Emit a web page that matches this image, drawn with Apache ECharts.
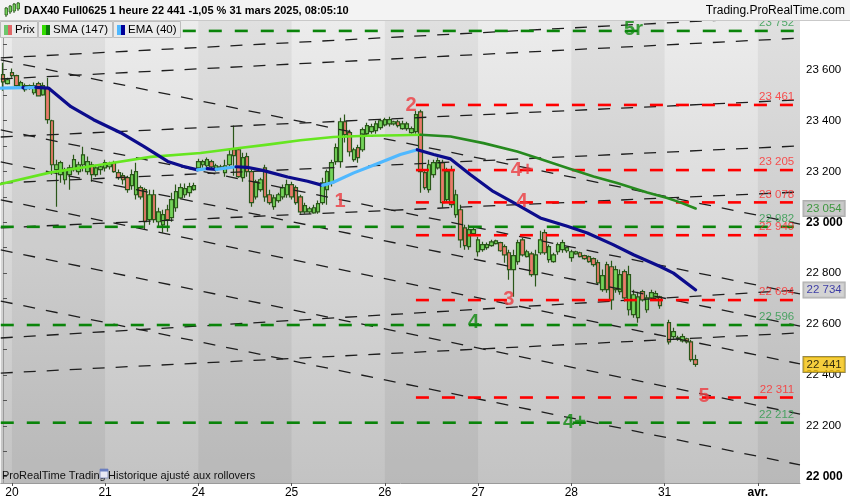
<!DOCTYPE html>
<html><head><meta charset="utf-8">
<script src="https://cdn.jsdelivr.net/npm/echarts@6/dist/echarts.min.js"></script>
<style>html,body{margin:0;padding:0;background:#fff}#c{width:850px;height:500px}</style>
</head><body><div id="c"></div>
<script>
// ================= DATA =================
const slotCount = 180;                    // hourly slots on the x axis
const daySlots  = [2, 23, 44, 65, 86, 107, 128, 149, 170];
const dayLabels = ['20', '21', '24', '25', '26', '27', '28', '31', 'avr.'];

const opens = [23580,23545,23588,23576,23533,23521,23529,23509,23545,23501,
23529,23399,23207,23187,23167,23187,23207,23199,23226,23199,
23226,23187,23207,23214,23218,23234,23195,23183,23175,23144,
23108,23136,23128,23010,23108,23002,22990,23049,23018,23057,
23096,23108,23116,23128,23214,23226,23222,23238,23207,23218,
23195,23226,23285,23285,23175,23258,23199,23100,23128,23214,
23108,23061,23085,23100,23108,23148,23136,23100,23041,23041,
23037,23041,23077,23128,23155,23238,23238,23395,23352,23246,
23293,23285,23348,23356,23360,23372,23383,23387,23387,23395,
23368,23368,23352,23356,23434,23195,23128,23187,23214,23234,
23089,23207,23030,23049,22978,22904,22955,22884,22892,22900,
22908,22916,22920,22904,22880,22814,22845,22931,22865,22876,
22794,22880,22959,22853,22845,22884,22892,22888,22861,22876,
22880,22869,22865,22857,22841,22735,22833,22825,22735,22727,
22806,22656,22637,22625,22727,22656,22703,22703,22707,null,
22605,22550,22542,22534,22542,22530,22460];
const closes = [23552,23560,23576,23537,23549,23537,23537,23537,23497,23537,
23403,23226,23226,23234,23207,23214,23246,23226,23265,23238,
23187,23214,23218,23234,23230,23199,23175,23167,23128,23187,
23199,23100,23002,23108,23010,23041,23030,23010,23089,23120,
23136,23132,23140,23144,23238,23238,23246,23218,23222,23214,
23222,23265,23262,23179,23254,23199,23077,23159,23167,23100,
23077,23096,23108,23136,23148,23100,23077,23041,23065,23053,
23057,23073,23155,23199,23234,23293,23395,23344,23277,23285,
23254,23364,23380,23376,23387,23399,23403,23403,23395,23380,
23387,23387,23368,23423,23199,23136,23226,23234,23242,23077,
23199,23069,23108,22931,22908,22971,22971,22931,22912,22912,
22923,22927,22888,22872,22814,22869,22920,22872,22884,22794,
22872,22931,22880,22904,22872,22912,22920,22900,22884,22884,
22865,22857,22845,22833,22762,22790,22735,22695,22814,22794,
22703,22794,22715,22707,22695,22703,22723,22719,22672,null,
22530,22570,22546,22550,22530,22460,22441];
const lows = [23517,23541,23568,23533,23525,23513,23521,23501,23494,23497,
23387,23187,23061,23155,23148,23128,23199,23187,23199,23187,
23159,23179,23187,23199,23207,23195,23167,23148,23116,23128,
23089,23089,22971,22990,22998,22982,22959,22963,23002,23041,
23089,23096,23100,23124,23207,23214,23214,23207,23199,23207,
23179,23218,23183,23175,23159,23179,23061,23089,23120,23081,
23069,23049,23077,23089,23096,23089,23069,23033,23033,23033,
23033,23033,23069,23069,23140,23226,23214,23313,23258,23238,
23234,23277,23340,23348,23348,23364,23376,23376,23380,23372,
23364,23360,23348,23348,23116,23128,23116,23175,23207,23057,
23077,23057,23018,22900,22892,22892,22947,22865,22884,22892,
22904,22912,22884,22841,22774,22707,22833,22865,22861,22786,
22747,22872,22872,22841,22841,22872,22880,22880,22845,22872,
22861,22853,22841,22825,22754,22727,22723,22656,22723,22715,
22688,22633,22625,22605,22688,22644,22695,22695,22660,null,
22519,22542,22534,22527,22523,22452,22432];
const highs = [23627,23568,23604,23580,23556,23545,23541,23549,23552,23549,
23568,23403,23246,23242,23214,23226,23265,23238,23297,23258,
23238,23226,23226,23246,23238,23242,23207,23195,23183,23207,
23234,23144,23136,23128,23128,23057,23049,23069,23116,23148,
23152,23152,23155,23155,23250,23246,23254,23246,23230,23226,
23246,23285,23380,23293,23273,23273,23207,23167,23175,23226,
23128,23108,23116,23148,23167,23159,23144,23108,23077,23061,
23069,23085,23175,23207,23246,23309,23411,23423,23364,23293,
23305,23372,23391,23387,23399,23407,23411,23415,23399,23403,
23399,23395,23376,23438,23442,23207,23246,23246,23254,23246,
23214,23222,23128,23069,22990,22990,22978,22943,22923,22920,
22931,22931,22923,22912,22892,22892,22931,22939,22892,22884,
22892,22967,22971,22912,22880,22920,22931,22904,22892,22888,
22884,22872,22869,22861,22853,22814,22845,22849,22829,22814,
22814,22829,22735,22727,22735,22715,22735,22731,22711,null,
22617,22585,22554,22562,22546,22538,22479];

// EMA(40) and SMA(147) at sample slots
const emaSlots  = [-0.5,4.5,5.1,7.4,10.3,15.3,20.4,26.5,31.7,37.1,40.5,43.8,46.0,48.0,52.5,55.0,58.7,64.1,68.6,72.0,74.4,79.0,84.3,89.5,93.3,97.0,100.8,105.3,110.4,115.8,121.0,127.1,131.6,137.4,142.0,148.0,151.0,156.0];
const emaValues = [23527,23529,23528,23530,23527,23454,23403,23352,23298,23239,23220,23206,23211,23208,23218,23216,23203,23178,23161,23145,23157,23194,23230,23266,23285,23266,23249,23187,23121,23069,23017,22984,22958,22912,22872,22826,22800,22734];
const smaSlots  = [-0.5,10.75,22,33.25,44.5,51.9,59.6,67,74.4,82.1,89.5,94,100.8,108.2,115.8,121,127.1,133,138.3,145.1,149.6,152.5,156];
const smaValues = [23150,23196,23226,23257,23272,23289,23305,23322,23335,23340,23342,23344,23337,23311,23278,23249,23213,23180,23154,23117,23095,23078,23054];

// support / resistance levels
const redLevels   = [23461, 23205, 23078, 22949, 22694, 22311];
const greenLevels = [23752, 22982, 22596, 22212];
const redLevelStart = 93, greenLevelStart = -0.5, levelEnd = 179;

// dashed trend lines (value at left edge, value at right edge)
const trendStartSlot = -0.5, trendEndSlot = 179.5;
const trendStartValues = [23638,23363,23237,23088,22891,22690, 23646,23563,23335,23154,22978,22545,22407];
const trendEndValues   = [22993,22718,22592,22443,22246,22046, 23811,23724,23481,23300,23119,22734,22565];

// wave count annotations
const waveTexts  = ['1','2','3','4','4+','4','5','4+','5r'];
const waveSlots  = [75.9, 91.9, 113.9, 116.9, 116.9, 106.0, 157.9, 128.7, 142.0];
const waveValues = [23081, 23457, 22698, 23081, 23205, 22604, 22315, 22211, 23756];
const waveGroup  = ['r','r','r','r','r','g','r','g','g'];

// right-side value tags
const tagValues = [23054, 22734, 22441];
const tagKinds  = ['sma', 'ema', 'price'];

// y axis ticks/labels
const yTickValues  = [22000,22100,22200,22300,22400,22500,22600,22700,22800,22900,23000,23100,23200,23300,23400,23500,23600,23700];
const yLabelValues = [22000,22200,22400,22600,22800,23000,23200,23400,23600];
const yMin = 21975, yMax = 23791;

// ================= CHART =================
const FONT = "'Liberation Sans', Arial, sans-serif";
const fmt = v => String(Math.round(v)).replace(/\B(?=(\d{3})+(?!\d))/g, '\u00a0');
const chart = echarts.init(document.getElementById('c'));

const cats = Array.from({length: slotCount}, (_, i) => 's' + i);
const candleData = opens.map((o, i) => o == null ? '-' : [o, closes[i], lows[i], highs[i]]);

// alternating day shading
const darkDays = [0, 2, 4, 6, 8];
const bandPairs = darkDays.map(k => [{xAxis: daySlots[k]}, {xAxis: k + 1 < daySlots.length ? daySlots[k + 1] : 179.5}]);

const series = [];
series.push({type: 'line', xAxisIndex: 1, data: [], silent: true, z: 1,
  markArea: {silent: true, itemStyle: {color: 'rgba(0,0,0,0.05)'}, data: bandPairs}});

series.push({type: 'candlestick', xAxisIndex: 0, data: candleData, barWidth: 4, z: 3, silent: true,
  itemStyle: {color: '#74d45a', color0: '#e97b6b', borderColor: '#2a5619', borderColor0: '#2a5619', borderWidth: 1.2}});

trendStartValues.forEach((v, i) => {
  series.push({type: 'line', xAxisIndex: 1, symbol: 'none', silent: true, z: 4,
    data: [[trendStartSlot, v], [trendEndSlot, trendEndValues[i]]],
    lineStyle: {color: '#1e1e1e', width: 1.3, type: [12, 11]}});
});

greenLevels.forEach(v => series.push({type: 'line', xAxisIndex: 1, symbol: 'none', silent: true, z: 4,
  data: [[greenLevelStart, v], [levelEnd, v]], lineStyle: {color: '#0a840a', width: 2.6, type: [13, 13]}}));
redLevels.forEach(v => series.push({type: 'line', xAxisIndex: 1, symbol: 'none', silent: true, z: 4,
  data: [[redLevelStart, v], [levelEnd, v]], lineStyle: {color: '#ff0000', width: 2.6, type: [13, 13]}}));

// indicator lines coloured by direction
function addRuns(slots, vals, upColor, downColor, width) {
  let run = [[slots[0], vals[0]]], dir = null;
  for (let i = 1; i < slots.length; i++) {
    const d = vals[i] >= vals[i - 1] ? 'up' : 'down';
    if (dir !== null && d !== dir) {
      series.push(mk(run, dir));
      run = [[slots[i - 1], vals[i - 1]]];
    }
    dir = d;
    run.push([slots[i], vals[i]]);
  }
  series.push(mk(run, dir));
  function mk(data, d) {
    return {type: 'line', xAxisIndex: 1, symbol: 'none', silent: true, z: 5, data,
      lineStyle: {color: d === 'up' ? upColor : downColor, width, cap: 'round', join: 'round'}};
  }
}
addRuns(smaSlots, smaValues, '#66e620', '#268a1e', 2.6);
addRuns(emaSlots, emaValues, '#4fb8ff', '#0c0c8c', 3.2);

// level labels
const levelLabelData = redLevels.map(v => ({value: [178.3, v], label: {color: '#ff2a2a'}}))
  .concat(greenLevels.map(v => ({value: [178.3, v], label: {color: '#2c9a4a'}})));
series.push({type: 'scatter', xAxisIndex: 1, symbolSize: 1, itemStyle: {color: 'rgba(0,0,0,0)'}, silent: true, z: 6,
  data: levelLabelData,
  label: {show: true, position: 'left', distance: 0, offset: [0, -8], fontFamily: FONT, fontSize: 11.5,
    formatter: p => fmt(p.value[1])}});

// wave annotations
const waveColor = {r: '#ec3b40', g: '#0f8a0f'};
series.push({type: 'scatter', xAxisIndex: 1, symbolSize: 1, itemStyle: {color: 'rgba(0,0,0,0)'}, silent: true, z: 7,
  data: waveTexts.map((t, i) => ({value: [waveSlots[i], waveValues[i]], name: t, label: {color: waveColor[waveGroup[i]]}})),
  label: {show: true, position: 'inside', fontFamily: FONT, fontSize: 20, fontWeight: 'bold', formatter: p => p.name}});

// right tags
const tagStyle = {
  sma: {color: '#1d8a1d', backgroundColor: '#bcbcbc', borderColor: '#9a9a9a'},
  ema: {color: '#14149a', backgroundColor: '#c8c8c8', borderColor: '#9a9a9a'},
  price: {color: '#000', backgroundColor: '#f4c20d', borderColor: '#7a6a20'}
};
series.push({type: 'scatter', xAxisIndex: 1, symbolSize: 1, itemStyle: {color: 'rgba(0,0,0,0)'}, silent: true, clip: false, z: 8,
  data: tagValues.map((v, i) => ({value: [179.5, v], label: tagStyle[tagKinds[i]]})),
  label: {show: true, position: 'right', distance: 3, padding: [2, 3, 1, 3], borderWidth: 1, fontFamily: FONT, fontSize: 11.5,
    formatter: p => fmt(p.value[1])}});

// ---------- graphics (header, legend, footer) ----------
const G = [];
G.push({type: 'rect', shape: {x: 0, y: 0, width: 850, height: 20}, style: {fill: '#f3f3f3'}, z: 100});
G.push({type: 'line', shape: {x1: 0, y1: 20.5, x2: 850, y2: 20.5}, style: {stroke: '#c9c9c9', lineWidth: 1}, z: 100});
[[5, 8, 15], [9, 6, 12], [13, 4, 11], [17, 3, 9]].forEach(([x, y1, y2]) => {
  G.push({type: 'line', shape: {x1: x + 1, y1: y1 - 1, x2: x + 1, y2: y2 + 2}, style: {stroke: '#2c5a1c', lineWidth: 1}, z: 101});
  G.push({type: 'rect', shape: {x: x, y: y1, width: 2.5, height: y2 - y1}, style: {fill: '#74d45a', stroke: '#2c5a1c', lineWidth: 0.8}, z: 102});
});
G.push({type: 'text', x: 24, y: 10.5, style: {text: 'DAX40 Full0625 1 heure 22 441 -1,05 % 31 mars 2025, 08:05:10',
  font: 'bold 11px ' + FONT, fill: '#000', verticalAlign: 'middle'}, z: 101});
G.push({type: 'text', x: 845, y: 10.5, style: {text: 'Trading.ProRealTime.com', font: '12px ' + FONT, fill: '#000',
  align: 'right', verticalAlign: 'middle'}, z: 101});
// legend boxes
[[0, 37, 'Prix', '#6cc66c', '#e06666'], [38, 74, 'SMA (147)', '#33dd00', '#0a7a0a'], [113, 67, 'EMA (40)', '#4fb8ff', '#000099']]
  .forEach(([x, w, t, c1, c2]) => {
    G.push({type: 'rect', shape: {x: x + 0.5, y: 21.5, width: w, height: 16}, style: {fill: '#ebebeb', stroke: '#bdbdbd', lineWidth: 1}, z: 100});
    G.push({type: 'rect', shape: {x: x + 4, y: 25, width: 4, height: 10}, style: {fill: c1}, z: 101});
    G.push({type: 'rect', shape: {x: x + 8, y: 25, width: 4, height: 10}, style: {fill: c2}, z: 101});
    G.push({type: 'text', x: x + 15, y: 30, style: {text: t, font: '11.5px ' + FONT, fill: '#000', verticalAlign: 'middle'}, z: 101});
  });
// footer note
G.push({type: 'text', x: 2, y: 476, style: {text: 'ProRealTime Trading', font: '11px ' + FONT, fill: '#111', verticalAlign: 'middle'}, z: 101});
G.push({type: 'rect', shape: {x: 100, y: 469, width: 8, height: 9}, style: {fill: '#e8e8f4', stroke: '#7a86b8', lineWidth: 0.8}, z: 101});
G.push({type: 'rect', shape: {x: 100, y: 469, width: 8, height: 2.5}, style: {fill: '#6a7ec0'}, z: 101});
G.push({type: 'text', x: 108, y: 476, style: {text: 'Historique ajusté aux rollovers', font: '11px ' + FONT, fill: '#111', verticalAlign: 'middle'}, z: 101});

chart.setOption({
  animation: false,
  backgroundColor: '#ffffff',
  grid: {left: 0, right: 50, top: 21, bottom: 17, show: true, borderWidth: 0,
    backgroundColor: {type: 'linear', x: 0, y: 0, x2: 0, y2: 1,
      colorStops: [{offset: 0, color: '#ececec'}, {offset: 1, color: '#c3c3c3'}]}},
  xAxis: [
    {type: 'category', data: cats, boundaryGap: true,
      axisLine: {show: true, lineStyle: {color: '#9a9a9a'}},
      axisTick: {show: true, length: 3, alignWithLabel: true, interval: idx => daySlots.includes(idx), lineStyle: {color: '#555'}},
      axisLabel: {interval: 0, margin: 4, color: '#000', fontFamily: FONT, fontSize: 12,
        formatter: (val, idx) => { const k = daySlots.indexOf(idx); if (k < 0) return '';
          const t = dayLabels[k]; return /^\d+$/.test(t) ? t : '{b|' + t + '}'; },
        rich: {b: {fontWeight: 'bold', fontSize: 12, fontFamily: FONT, color: '#000'}}},
      splitLine: {show: false}},
    {type: 'value', min: -0.5, max: 179.5, show: false, splitLine: {show: false}}
  ],
  yAxis: {type: 'value', position: 'right', min: yMin, max: yMax, scale: true,
    splitLine: {show: false},
    axisLine: {show: true, lineStyle: {color: '#9a9a9a'}},
    axisTick: {show: true, customValues: yTickValues, length: 4, lineStyle: {color: '#555'}},
    axisLabel: {customValues: yLabelValues, margin: 6, color: '#000',
      formatter: v => (v % 1000 === 0 ? '{b|' : '{n|') + fmt(v) + '}',
      rich: {b: {fontWeight: 'bold', fontSize: 12, fontFamily: FONT, color: '#000'},
             n: {fontSize: 11.5, fontFamily: FONT, color: '#000'}}}},
  series,
  graphic: G
});
</script>
</body></html>
